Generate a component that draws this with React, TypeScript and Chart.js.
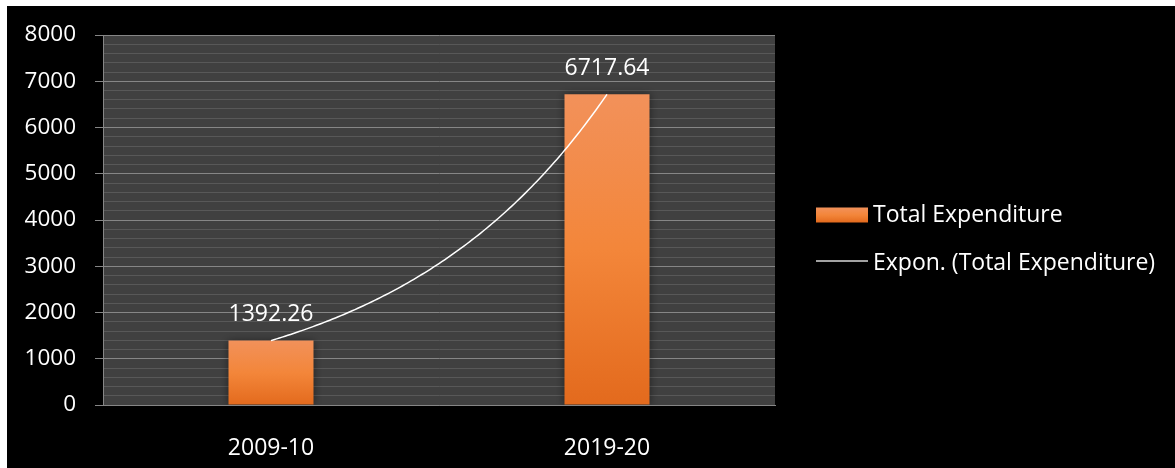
import React, { useEffect, useRef } from "react";
import { Chart, registerables } from "chart.js";

Chart.register(...registerables);

// ---- data ----
const categories = ["2009-10", "2019-20"];
const expenditure = [1392.26, 6717.64];
const seriesLabel = "Total Expenditure";
const trendLabel = "Expon. (Total Expenditure)";
const yMin = 0;
const yMax = 8000;
const majorStep = 1000;
const minorStep = 200;

const FONT = "'Open Sans', 'DejaVu Sans', sans-serif";
const MAJOR = "#868686";
const MINOR = "#585858";

function barGradient(ctx: CanvasRenderingContext2D, top: number, bottom: number) {
  const g = ctx.createLinearGradient(0, top, 0, bottom);
  g.addColorStop(0, "#f2915a");
  g.addColorStop(0.5, "#f3863a");
  g.addColorStop(1, "#e36a1d");
  return g;
}

const backgroundPlugin = {
  id: "bgPlot",
  beforeDraw(chart: any) {
    const { ctx, chartArea: a, width, height } = chart;
    ctx.save();
    ctx.fillStyle = "#000000";
    ctx.fillRect(0, 0, width, height);
    ctx.fillStyle = "#404040";
    ctx.fillRect(a.left, a.top, a.right - a.left, a.bottom - a.top);
    ctx.restore();
  },
  beforeDatasetDraw(chart: any, args: any) {
    if (args.index === 0) {
      const ctx = chart.ctx;
      ctx.save();
      ctx.shadowColor = "rgba(0,0,0,0.45)";
      ctx.shadowBlur = 8;
    }
  },
  afterDatasetDraw(chart: any, args: any) {
    if (args.index === 0) chart.ctx.restore();
  },
};

const trendAndLabelsPlugin = {
  id: "trendLabels",
  afterDatasetsDraw(chart: any) {
    const { ctx } = chart;
    const xs = chart.scales.x;
    const ys = chart.scales.y;
    const values: number[] = chart.data.datasets[0].data;
    // exponential least-squares fit: ln(v) = ln(a) + b * i
    const n = values.length;
    let sx = 0, sy = 0, sxx = 0, sxy = 0;
    values.forEach((v, i) => {
      const ly = Math.log(v);
      sx += i; sy += ly; sxx += i * i; sxy += i * ly;
    });
    const b = (n * sxy - sx * sy) / (n * sxx - sx * sx);
    const la = (sy - b * sx) / n;
    ctx.save();
    ctx.beginPath();
    const steps = 120;
    for (let s = 0; s <= steps; s++) {
      const t = ((n - 1) * s) / steps;
      const v = Math.exp(la + b * t);
      const px = xs.getPixelForValue(t);
      const py = ys.getPixelForValue(v);
      if (s === 0) ctx.moveTo(px, py);
      else ctx.lineTo(px, py);
    }
    ctx.strokeStyle = "#ffffff";
    ctx.lineWidth = 1.5;
    ctx.stroke();

    // data labels
    const meta = chart.getDatasetMeta(0);
    ctx.fillStyle = "#ffffff";
    ctx.font = `23px ${FONT}`;
    ctx.textAlign = "center";
    ctx.textBaseline = "middle";
    meta.data.forEach((bar: any, i: number) => {
      ctx.fillText(String(values[i]), bar.x, bar.y - 26);
    });
    ctx.restore();
  },
  afterDraw(chart: any) {
    const { ctx, chartArea, height } = chart;
    const lx = chartArea.right + 41;
    const boxW = 52;
    const boxH = 15;
    const y1 = height / 2 - 22;
    const y2 = height / 2 + 26;
    ctx.save();
    ctx.fillStyle = barGradient(ctx, y1 - boxH / 2, y1 + boxH / 2);
    ctx.fillRect(lx, y1 - boxH / 2, boxW, boxH);
    ctx.beginPath();
    ctx.moveTo(lx, y2 - 2);
    ctx.lineTo(lx + boxW, y2 - 2);
    ctx.strokeStyle = "#d9d9d9";
    ctx.lineWidth = 1.5;
    ctx.stroke();
    ctx.fillStyle = "#ffffff";
    ctx.font = `23px ${FONT}`;
    ctx.textAlign = "left";
    ctx.textBaseline = "middle";
    ctx.fillText(chart.data.datasets[0].label, lx + boxW + 5, y1);
    ctx.fillText(chart.data.datasets[1].label, lx + boxW + 5, y2);
    ctx.restore();
  },
};

export default function App() {
  const ref = useRef<HTMLCanvasElement | null>(null);

  useEffect(() => {
    document.body.style.margin = "6px 0 0 7px";
    document.body.style.overflow = "hidden";
    if (!ref.current) return;
    const chart = new Chart(ref.current, {
      type: "bar",
      data: {
        labels: categories,
        datasets: [
          {
            label: seriesLabel,
            data: expenditure,
            borderWidth: 0,
            categoryPercentage: 1,
            barPercentage: 0.253,
            backgroundColor: (c: any) => {
              const chart = c.chart;
              if (!chart.chartArea || c.type !== "data") return "#f0843c";
              const ys = chart.scales.y;
              return barGradient(chart.ctx, ys.getPixelForValue(c.raw), ys.getPixelForValue(0));
            },
          } as any,
          {
            type: "line",
            label: trendLabel,
            data: expenditure,
            showLine: false,
            pointRadius: 0,
            borderColor: "#ffffff",
          } as any,
        ],
      },
      options: {
        responsive: false,
        animation: false,
        devicePixelRatio: 1,
        layout: { padding: { left: 0, top: 29, right: 400, bottom: 0 } },
        plugins: {
          legend: { display: false },
          tooltip: { enabled: false },
        },
        scales: {
          x: {
            grid: { display: false },
            border: { display: true, color: MAJOR, width: 1 },
            ticks: {
              color: "#ffffff",
              font: { family: FONT, size: 23 },
              padding: 22,
            },
            afterFit: (s: any) => {
              s.height = 63;
            },
          },
          y: {
            min: yMin,
            max: yMax,
            border: { display: true, color: MAJOR, width: 1 },
            grid: {
              drawTicks: true,
              tickLength: 8,
              color: (c: any) => (c.tick && c.tick.value % majorStep === 0 ? MAJOR : MINOR),
              tickColor: (c: any) =>
                c.tick && c.tick.value % majorStep === 0 ? MAJOR : "rgba(0,0,0,0)",
              lineWidth: 1,
            },
            ticks: {
              stepSize: minorStep,
              autoSkip: false,
              color: "#ffffff",
              font: { family: FONT, size: 22.5 },
              padding: 19,
              callback: (v: any) => (Number(v) % majorStep === 0 ? String(v) : ""),
            },
            afterFit: (s: any) => {
              s.width = 96;
              s.paddingTop = 0;
              s.paddingBottom = 0;
            },
          },
        },
      },
      plugins: [backgroundPlugin, trendAndLabelsPlugin],
    });
    return () => chart.destroy();
  }, []);

  return (
    <canvas
      ref={ref}
      width={1168}
      height={462}
      style={{ display: "block", width: 1168, height: 462 }}
    />
  );
}
